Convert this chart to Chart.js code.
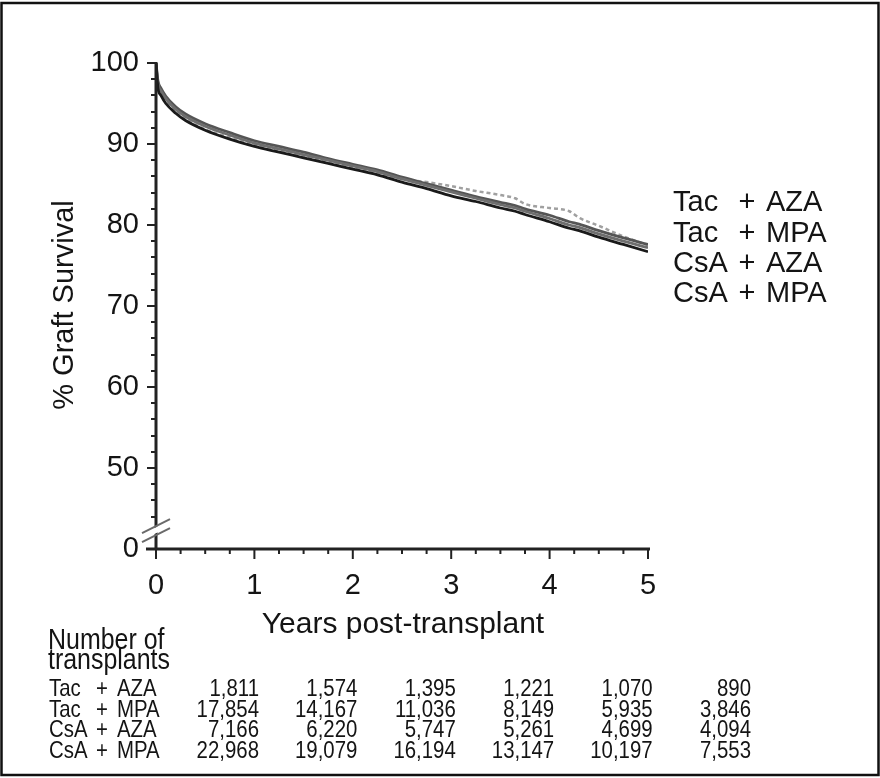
<!DOCTYPE html>
<html>
<head>
<meta charset="utf-8">
<script src="https://cdn.jsdelivr.net/npm/chart.js@4.4.1/dist/chart.umd.min.js"></script>
<style>
  html, body { margin: 0; padding: 0; background: #fff; }
  #wrap { width: 880px; height: 778px; position: relative; }
  canvas { display: block; }
</style>
</head>
<body>
<div id="wrap"><canvas id="c" width="880" height="778"></canvas></div>
<script>
// ---- data ----
const years = [0, 0.02, 0.05, 0.1, 0.2, 0.3, 0.5, 0.75, 1, 1.25, 1.5, 1.75, 2, 2.25, 2.5, 2.75, 3, 3.25, 3.5, 3.65, 3.75, 4, 4.2, 4.3, 4.5, 4.75, 5];
const tacAza = [100, 97.2, 96.3, 95.3, 94.0, 93.1, 91.8, 90.8, 89.9, 89.2, 88.5, 87.8, 87.1, 86.4, 85.7, 85.3, 84.8, 84.2, 83.7, 83.3, 82.6, 82.1, 81.7, 80.9, 79.9, 78.6, 77.5];
const tacMpa = [100, 97.8, 96.9, 95.9, 94.6, 93.7, 92.5, 91.4, 90.4, 89.7, 89.0, 88.2, 87.5, 86.8, 85.9, 85.1, 84.3, 83.5, 82.8, 82.4, 82.0, 81.2, 80.4, 80.1, 79.3, 78.4, 77.6];
const csaAza = [100, 97.4, 96.6, 95.6, 94.3, 93.4, 92.2, 91.1, 90.1, 89.4, 88.7, 88.0, 87.3, 86.6, 85.7, 84.9, 84.1, 83.3, 82.5, 82.1, 81.7, 80.8, 80.0, 79.7, 78.9, 78.0, 77.2];
const csaMpa = [100, 96.9, 96.0, 95.0, 93.8, 92.9, 91.7, 90.6, 89.7, 89.0, 88.3, 87.6, 86.9, 86.2, 85.3, 84.5, 83.6, 82.9, 82.1, 81.7, 81.3, 80.4, 79.6, 79.3, 78.5, 77.6, 76.7];

const regimenBase = ['Tac', 'Tac', 'CsA', 'CsA'];
const regimenAdd = ['AZA', 'MPA', 'AZA', 'MPA'];

const yTickLabels = { 100: '100', 90: '90', 80: '80', 70: '70', 60: '60', 50: '50', 40: '0' };
const tableYears = [0, 1, 2, 3, 4, 5];
const nTacAza = [1811, 1574, 1395, 1221, 1070, 890];
const nTacMpa = [17854, 14167, 11036, 8149, 5935, 3846];
const nCsaAza = [7166, 6220, 5747, 5261, 4699, 4094];
const nCsaMpa = [22968, 19079, 16194, 13147, 10197, 7553];

const xTitle = 'Years post-transplant';
const yTitle = '% Graft Survival';
const tableTitle = ['Number of', 'transplants'];

// ---- helpers ----
const FAMILY = '"Liberation Sans", Arial, Helvetica, sans-serif';
const INK = '#141414';
function txt(ctx, s, x, y, size, align, sx) {
  ctx.save();
  ctx.font = size + 'px ' + FAMILY;
  ctx.textBaseline = 'alphabetic';
  ctx.textAlign = 'left';
  ctx.fillStyle = INK;
  const w = ctx.measureText(s).width * sx;
  const left = align === 'right' ? x - w : (align === 'center' ? x - w / 2 : x);
  ctx.translate(left, y);
  ctx.scale(sx, 1);
  ctx.fillText(s, 0, 0);
  ctx.restore();
}
const pts = arr => years.map((x, i) => ({ x: x, y: arr[i] }));

const decor = {
  id: 'decor',
  afterDraw(chart) {
    const ctx = chart.ctx;
    const xs = chart.scales.x, ys = chart.scales.y;
    const ax = xs.getPixelForValue(0);
    const ay = ys.getPixelForValue(40);
    ctx.save();
    // frame
    ctx.strokeStyle = '#111';
    ctx.lineWidth = 2.5;
    ctx.strokeRect(1.5, 3, 877, 772);
    // axes
    ctx.strokeStyle = '#222';
    ctx.lineWidth = 3;
    ctx.beginPath();
    ctx.moveTo(ax, ys.getPixelForValue(100) - 1);
    ctx.lineTo(ax, ay);
    ctx.moveTo(ax - 10, ay);
    ctx.lineTo(xs.getPixelForValue(5) + 2, ay);
    ctx.stroke();
    // y ticks
    ctx.lineWidth = 2;
    ctx.beginPath();
    for (let v = 44; v <= 100; v += 2) {
      const py = Math.round(ys.getPixelForValue(v));
      const len = v % 10 === 0 ? 9 : 5;
      ctx.moveTo(ax - len, py);
      ctx.lineTo(ax, py);
    }
    // x ticks
    for (let q = 0; q <= 20; q++) {
      const px = xs.getPixelForValue(q / 4);
      const len = q % 4 === 0 ? 10 : 5;
      ctx.moveTo(px, ay);
      ctx.lineTo(px, ay + len);
    }
    ctx.stroke();
    // axis break
    const by = ys.getPixelForValue(42.2);
    ctx.fillStyle = '#fff';
    ctx.beginPath();
    ctx.moveTo(ax - 12, by + 2 + 6);
    ctx.lineTo(ax + 12, by + 2 - 6);
    ctx.lineTo(ax + 12, by - 4 - 6);
    ctx.lineTo(ax - 12, by - 4 + 6);
    ctx.closePath();
    ctx.fill();
    ctx.strokeStyle = '#6a6a6a';
    ctx.lineWidth = 2;
    ctx.beginPath();
    ctx.moveTo(ax - 14, by + 4 + 7);
    ctx.lineTo(ax + 14, by + 4 - 7);
    ctx.moveTo(ax - 14, by - 5 + 7);
    ctx.lineTo(ax + 14, by - 5 - 7);
    ctx.stroke();
    ctx.restore();

    // axis titles
    txt(ctx, xTitle, (xs.getPixelForValue(0) + xs.getPixelForValue(5)) / 2 + 1, 633, 30, 'center', 1);
    ctx.save();
    ctx.translate(73, (ys.getPixelForValue(40) + ys.getPixelForValue(100)) / 2 - 1);
    ctx.rotate(-Math.PI / 2);
    txt(ctx, yTitle, 0, 0, 29, 'center', 1);
    ctx.restore();

    // legend (text only)
    const legBase = [211, 241.5, 272, 302];
    for (let i = 0; i < 4; i++) {
      txt(ctx, regimenBase[i], 673, legBase[i], 29, 'left', 1);
      txt(ctx, '+', 747, legBase[i], 29, 'center', 1);
      txt(ctx, regimenAdd[i], 766, legBase[i], 29, 'left', 1);
    }

    // number-at-risk table
    txt(ctx, tableTitle[0], 48, 649, 29, 'left', 0.86);
    txt(ctx, tableTitle[1], 48, 669, 29, 'left', 0.86);
    const rows = [nTacAza, nTacMpa, nCsaAza, nCsaMpa];
    const rowBase = [696, 717, 737, 758];
    for (let r = 0; r < 4; r++) {
      txt(ctx, regimenBase[r], 49, rowBase[r], 24, 'left', 0.85);
      txt(ctx, '+', 102, rowBase[r], 24, 'center', 0.85);
      txt(ctx, regimenAdd[r], 117, rowBase[r], 24, 'left', 0.85);
      for (let c = 0; c < tableYears.length; c++) {
        const px = xs.getPixelForValue(tableYears[c]) + 103;
        txt(ctx, rows[r][c].toLocaleString('en-US'), px, rowBase[r], 24, 'right', 0.85);
      }
    }
  }
};

new Chart(document.getElementById('c'), {
  type: 'line',
  data: {
    datasets: [
      { label: 'Tac + AZA', data: pts(tacAza), borderColor: '#a0a0a0', borderWidth: 2.5, borderDash: [4, 3], order: 4 },
      { label: 'Tac + MPA', data: pts(tacMpa), borderColor: '#555', borderWidth: 2.8, order: 3 },
      { label: 'CsA + AZA', data: pts(csaAza), borderColor: '#6e6e6e', borderWidth: 2.8, order: 2 },
      { label: 'CsA + MPA', data: pts(csaMpa), borderColor: '#1a1a1a', borderWidth: 2.8, order: 1 }
    ]
  },
  options: {
    responsive: false,
    animation: false,
    devicePixelRatio: 1,
    elements: { point: { radius: 0 }, line: { cubicInterpolationMode: 'monotone', fill: false } },
    layout: { padding: { top: 63, left: 0, right: 232, bottom: 169 } },
    plugins: { legend: { display: false }, tooltip: { enabled: false } },
    scales: {
      x: {
        type: 'linear', min: 0, max: 5,
        afterFit: s => { s.height = 60; },
        border: { display: false },
        grid: { display: false, drawTicks: false },
        ticks: { stepSize: 1, padding: 20, color: INK, font: { family: FAMILY, size: 29 } }
      },
      y: {
        type: 'linear', min: 40, max: 100,
        afterFit: s => { s.width = 156; },
        border: { display: false },
        grid: { display: false, drawTicks: false },
        ticks: {
          stepSize: 2, autoSkip: false, padding: 17, color: INK,
          font: { family: FAMILY, size: 29 },
          callback: v => (yTickLabels[v] !== undefined ? yTickLabels[v] : '')
        }
      }
    }
  },
  plugins: [decor]
});
</script>
</body>
</html>
